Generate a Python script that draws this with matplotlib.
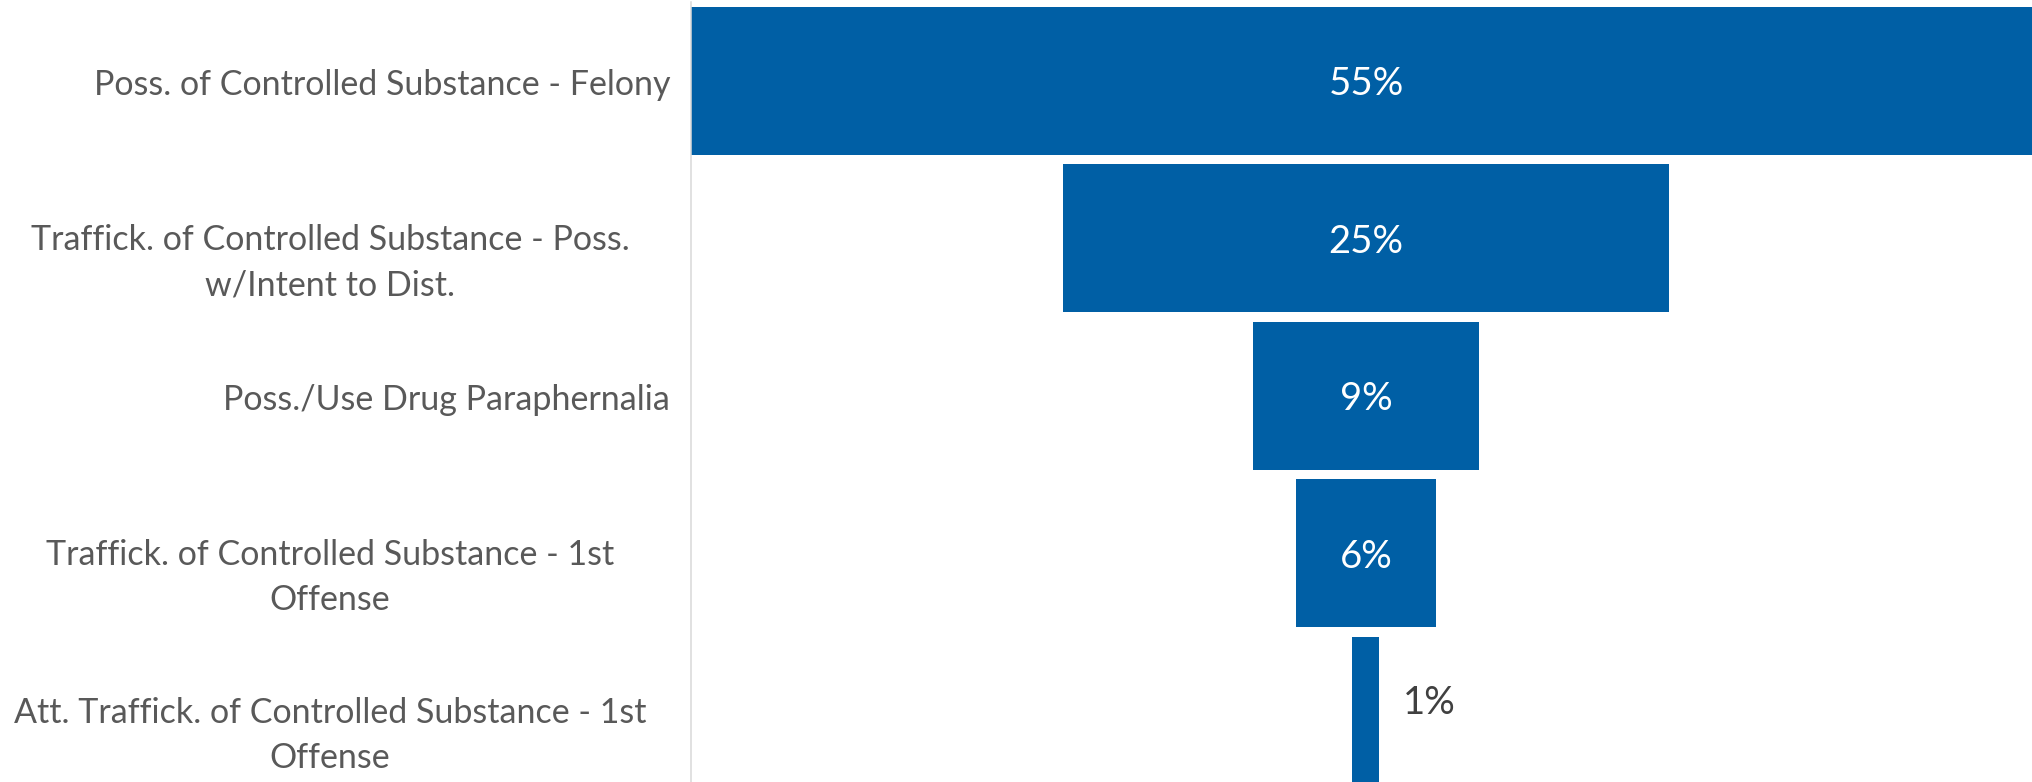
import matplotlib
matplotlib.use('Agg')
import matplotlib.pyplot as plt
import matplotlib.transforms as mtransforms

# ---- data ----
categories = [
    "Poss. of Controlled Substance - Felony",
    "Traffick. of Controlled Substance - Poss.\nw/Intent to Dist.",
    "Poss./Use Drug Paraphernalia",
    "Traffick. of Controlled Substance - 1st\nOffense",
    "Att. Traffick. of Controlled Substance - 1st\nOffense",
]
values = [55.0, 24.7, 9.2, 5.7, 1.1]
value_labels = ["55%", "25%", "9%", "6%", "1%"]

# ---- style ----
FONT = ['Lato', 'DejaVu Sans']
BAR_COLOR = '#005FA5'
TICK_COLOR = '#595959'
OUT_LABEL_COLOR = '#404040'
AXIS_COLOR = '#D9D9D9'

W, H, DPI = 2033, 782, 100
fig = plt.figure(figsize=(W / DPI, H / DPI), dpi=DPI)
fig.patch.set_facecolor('white')

pitch = 157.5
top_px = 1.75
n = len(values)
ax_left_px, ax_w_px = 691, 1350
ax = fig.add_axes([ax_left_px / W, 1 - (top_px + n * pitch) / H, ax_w_px / W, n * pitch / H])
ax.set_facecolor('none')

ypos = list(range(n))
lefts = [-v / 2 for v in values]
ax.barh(ypos, values, left=lefts, height=148 / pitch, color=BAR_COLOR, edgecolor='none')
ax.set_xlim(-values[0] / 2, values[0] / 2)
ax.set_ylim(n - 0.5, -0.5)

for s in ['top', 'right', 'bottom']:
    ax.spines[s].set_visible(False)
ax.spines['left'].set_color(AXIS_COLOR)
ax.spines['left'].set_linewidth(1.1)
ax.set_xticks([])
ax.set_yticks([])

# fit font sizes to the reference text widths
fig.canvas.draw()
renderer = fig.canvas.get_renderer()
probe = fig.text(0, 0, categories[0], fontsize=26.5, family=FONT)
tick_fs = 26.5 * 576 / probe.get_window_extent(renderer).width
probe.remove()
probe = fig.text(0, 0, value_labels[0], fontsize=31, family=FONT)
data_fs = 31 * 75 / probe.get_window_extent(renderer).width
probe.remove()

PT = 72 / DPI
blend = mtransforms.blended_transform_factory(fig.transFigure, ax.transData)
for i, lab in enumerate(categories):
    lines = lab.split('\n')
    if len(lines) == 1:
        tr = mtransforms.offset_copy(blend, fig=fig, y=-14 * PT, units='points')
        ax.text(670 / W, i, lab, transform=tr, ha='right', va='baseline',
                fontsize=tick_fs, color=TICK_COLOR, family=FONT)
    else:
        for k, line in enumerate(lines):
            tr = mtransforms.offset_copy(blend, fig=fig, y=-(12 + k * 45) * PT, units='points')
            ax.text(330 / W, i, line, transform=tr, ha='center', va='baseline',
                    fontsize=tick_fs, color=TICK_COLOR, family=FONT)

for i, (v, lab) in enumerate(zip(values, value_labels)):
    if v >= 2:
        tr = mtransforms.offset_copy(ax.transData, fig=fig, y=-14.5 * PT, units='points')
        ax.text(0, i, lab, transform=tr, ha='center', va='baseline', fontsize=data_fs,
                color='white', family=FONT)
    else:
        tr = mtransforms.offset_copy(ax.transData, fig=fig, x=23 * PT, y=-3 * PT, units='points')
        ax.text(v / 2, i, lab, transform=tr, ha='left', va='baseline', fontsize=data_fs,
                color=OUT_LABEL_COLOR, family=FONT)

fig.savefig('out.png', dpi=DPI, facecolor='white')
